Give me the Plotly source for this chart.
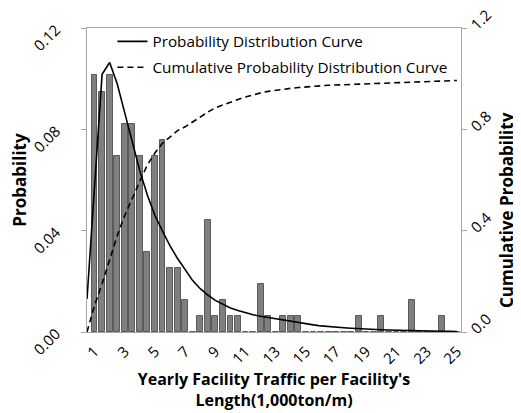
import plotly.graph_objects as go

# Histogram bins (1,000 ton/m), step 0.5
bin_x = [1 + 0.5 * k for k in range(49)]
counts = [16, 15, 16, 11, 13, 13, 11, 5, 11, 12, 4, 4, 2, 0, 1, 7, 1, 2, 1, 1,
          0, 0, 3, 1, 0, 1, 1, 1, 0, 0, 0, 0, 0, 0, 0, 1, 0, 0, 1, 0,
          0, 0, 2, 0, 0, 0, 1, 0, 0]
total = 158
probability = [c / total for c in counts]

# Fitted curves
curve_x = [0.5 + 0.5 * k for k in range(50)]
pdf_vals = [0.013, 0.057, 0.1017, 0.1064, 0.098, 0.0865, 0.0748, 0.0636, 0.054, 0.046,
            0.0398, 0.034, 0.029, 0.0245, 0.0203, 0.0171, 0.0146, 0.0125, 0.011, 0.0095,
            0.0085, 0.0076, 0.0068, 0.0062, 0.0057, 0.0052, 0.0047, 0.0041, 0.0036, 0.0032,
            0.0028, 0.0024, 0.0021, 0.0019, 0.0017, 0.0015, 0.0013, 0.0012, 0.0011, 0.0009,
            0.0008, 0.0007, 0.0006, 0.0005, 0.0005, 0.0004, 0.0004, 0.0003, 0.0003, 0.0002]
cdf_vals = [0.0, 0.105, 0.19, 0.283, 0.38, 0.46, 0.53, 0.595, 0.66, 0.707,
            0.745, 0.77, 0.795, 0.81, 0.83, 0.848, 0.868, 0.885, 0.897, 0.908,
            0.918, 0.928, 0.937, 0.944, 0.95, 0.955, 0.959, 0.962, 0.965, 0.968,
            0.970, 0.972, 0.974, 0.975, 0.976, 0.977, 0.978, 0.980, 0.981, 0.982,
            0.983, 0.985, 0.986, 0.987, 0.988, 0.989, 0.990, 0.991, 0.992, 0.993]

x_ticks = list(range(1, 26, 2))
y_ticks = [0, 0.04, 0.08, 0.12]
y2_ticks = [0, 0.4, 0.8, 1.2]
y2_labels = ["0.0", "0.4", "0.8", "1.2"]

FONT = "Open Sans"

fig = go.Figure()
fig.add_trace(go.Bar(x=bin_x, y=probability, width=0.39,
                     marker=dict(color="#7f7f7f", line=dict(color="#5a5a5a", width=1)),
                     showlegend=False))
fig.add_trace(go.Scatter(x=curve_x, y=pdf_vals, mode="lines",
                         name="Probability Distribution Curve",
                         line=dict(color="black", width=1.6),
                         legendgroup="a"))
fig.add_trace(go.Scatter(x=curve_x, y=cdf_vals, mode="lines", yaxis="y2",
                         name="Cumulative Probability Distribution Curve",
                         line=dict(color="black", width=1.6, dash="6px,4px"),
                         legendgroup="b"))

# The page body has an 8px margin, so the figure is sized to fit the window after it.
fig.update_layout(
    width=513, height=405,
    margin=dict(l=79, r=60, t=20, b=81, autoexpand=False),
    paper_bgcolor="white", plot_bgcolor="white",
    font=dict(family=FONT, color="black"),
    bargap=0,
    legend=dict(x=0.068, y=1.01, xanchor="left", yanchor="top",
                bgcolor="rgba(0,0,0,0)", font=dict(size=15.3, family=FONT),
                tracegroupgap=3, traceorder="grouped"),
    xaxis=dict(range=[0.5, 25.27], tickvals=x_ticks, tickangle=-45,
               tickfont=dict(size=15), showline=True, linecolor="#a6a6a6",
               mirror=True, ticks="", showgrid=False, zeroline=False, automargin=False,
               ticklabelstandoff=4,
               title=dict(text="<b>Yearly Facility Traffic per Facility's<br>Length(1,000ton/m)</b>",
                          font=dict(size=16), standoff=3)),
    yaxis=dict(range=[0, 0.12001], tickvals=y_ticks, tickformat=".2f", tickangle=-45,
               tickfont=dict(size=15), showline=True, linecolor="#a6a6a6",
               ticks="outside", ticklen=5, tickcolor="#a6a6a6",
               showgrid=False, zeroline=False, automargin=False,
               ticklabelstandoff=22, ticklabeloverflow="allow",
               title=dict(text="<b>Probability</b>", font=dict(size=17), standoff=0)),
    yaxis2=dict(range=[0, 1.2001], tickvals=y2_ticks, ticktext=y2_labels, tickangle=-45,
                tickfont=dict(size=15), overlaying="y", side="right",
                showline=True, linecolor="#a6a6a6",
                ticks="outside", ticklen=5, tickcolor="#a6a6a6",
                showgrid=False, zeroline=False, automargin=False,
                ticklabelstandoff=2, ticklabeloverflow="allow"),
    annotations=[dict(text="<b>Cumulative Probability</b>", textangle=-90,
                      xref="paper", yref="paper", x=1.122, y=0.4,
                      xanchor="center", yanchor="middle", showarrow=False,
                      font=dict(size=17, family=FONT))],
)

fig.write_html("out.html")
